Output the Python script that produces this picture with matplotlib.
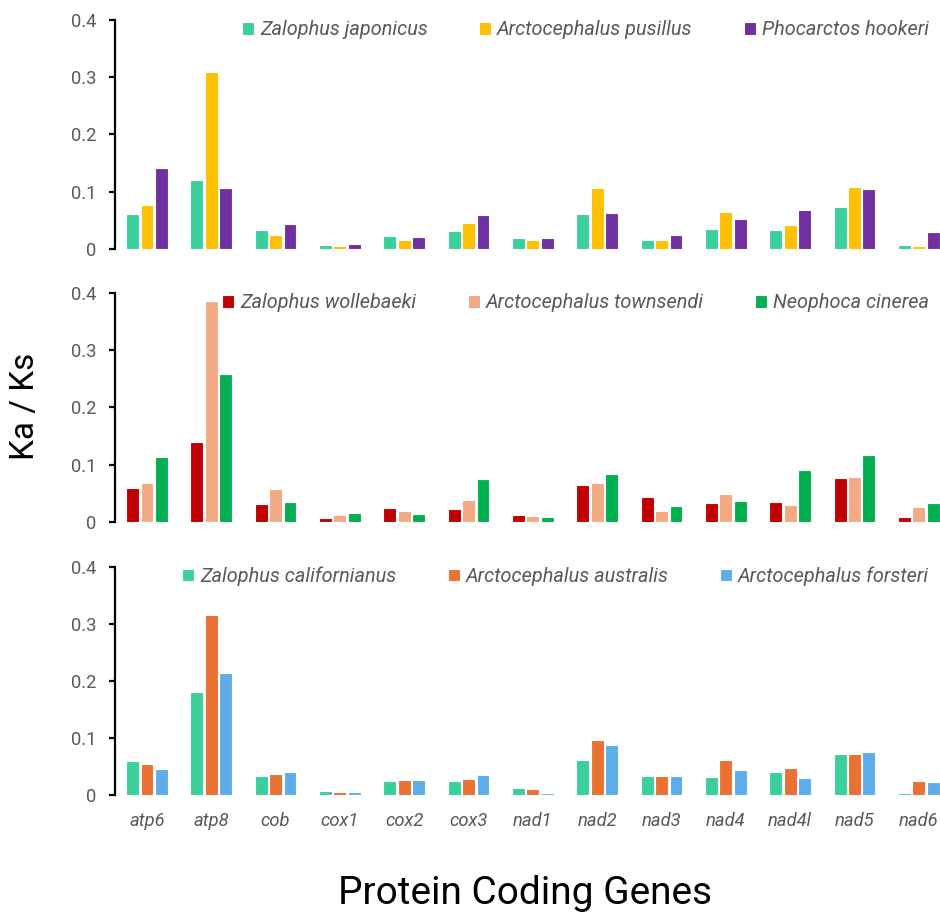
# Ka/Ks per mitochondrial protein-coding gene, three otariid panels
import matplotlib
matplotlib.use("Agg")
import matplotlib.pyplot as plt
import numpy as np

plt.rcParams["font.family"] = ["Roboto", "DejaVu Sans"]

genes = ["atp6", "atp8", "cob", "cox1", "cox2", "cox3", "nad1", "nad2",
         "nad3", "nad4", "nad4l", "nad5", "nad6"]

# panel 1
sp1 = ["Zalophus japonicus", "Arctocephalus pusillus", "Phocarctos hookeri"]
z_japonicus = [0.061, 0.121, 0.033, 0.007, 0.023, 0.031, 0.019, 0.061, 0.015, 0.034, 0.033, 0.073, 0.006]
a_pusillus = [0.076, 0.309, 0.024, 0.005, 0.015, 0.045, 0.015, 0.106, 0.015, 0.064, 0.041, 0.108, 0.005]
p_hookeri = [0.142, 0.106, 0.043, 0.008, 0.020, 0.059, 0.019, 0.062, 0.024, 0.052, 0.068, 0.104, 0.030]

# panel 2
sp2 = ["Zalophus wollebaeki", "Arctocephalus townsendi", "Neophoca cinerea"]
z_wollebaeki = [0.059, 0.140, 0.031, 0.007, 0.024, 0.022, 0.012, 0.065, 0.043, 0.032, 0.034, 0.076, 0.008]
a_townsendi = [0.068, 0.386, 0.057, 0.011, 0.018, 0.038, 0.010, 0.068, 0.018, 0.048, 0.030, 0.079, 0.026]
n_cinerea = [0.113, 0.259, 0.034, 0.015, 0.014, 0.074, 0.009, 0.083, 0.028, 0.037, 0.090, 0.117, 0.033]

# panel 3
sp3 = ["Zalophus californianus", "Arctocephalus australis", "Arctocephalus forsteri"]
z_californianus = [0.060, 0.180, 0.034, 0.007, 0.024, 0.025, 0.013, 0.062, 0.034, 0.031, 0.041, 0.072, 0.004]
a_australis = [0.055, 0.316, 0.036, 0.005, 0.026, 0.028, 0.011, 0.096, 0.034, 0.061, 0.047, 0.071, 0.025]
a_forsteri = [0.046, 0.214, 0.040, 0.005, 0.027, 0.035, 0.004, 0.088, 0.034, 0.044, 0.029, 0.075, 0.022]

panels = [
    (sp1, [z_japonicus, a_pusillus, p_hookeri], ["#3BCF9B", "#FFC000", "#7030A0"]),
    (sp2, [z_wollebaeki, a_townsendi, n_cinerea], ["#C00000", "#F2AA84", "#00B050"]),
    (sp3, [z_californianus, a_australis, a_forsteri], ["#3BCF9B", "#E97132", "#5EADEB"]),
]

GREY = "#595959"

fig = plt.figure(figsize=(9.4, 9.13), dpi=100)
left, width = 0.1221, 0.8896
bottoms = [0.7276, 0.4286, 0.1292]
x = np.arange(len(genes))
off = 0.224

for (names, series, colors), b in zip(panels, bottoms):
    ax = fig.add_axes([left, b, width, 0.2503])
    for i, (vals, c, n) in enumerate(zip(series, colors, names)):
        ax.bar(x + (i - 1) * off, vals, width=0.2, color=c, edgecolor="white",
               linewidth=0.8, label=n)
    ax.set_xlim(-0.5, len(genes) - 0.5)
    ax.set_ylim(0, 0.4)
    ax.set_yticks([0, 0.1, 0.2, 0.3, 0.4], ["0", "0.1", "0.2", "0.3", "0.4"])
    for s in ["top", "right", "bottom"]:
        ax.spines[s].set_visible(False)
    ax.spines["left"].set_linewidth(1.6)
    ax.tick_params(axis="y", length=4, width=1.6, labelsize=13.2,
                   labelcolor=GREY, pad=9)
    ax.tick_params(axis="x", length=0)
    if b == bottoms[-1]:
        ax.set_xticks(x, genes)
        for t in ax.get_xticklabels():
            t.set_fontstyle("italic")
            t.set_color(GREY)
            t.set_fontsize(13.2)
        ax.tick_params(axis="x", pad=12)
    else:
        ax.set_xticks([])
    ax.legend(loc="center right", bbox_to_anchor=(0.974, 0.958), ncol=3,
              frameon=False, borderpad=0, borderaxespad=0,
              handlelength=0.6, handleheight=0.6, handletextpad=0.3,
              columnspacing=2.6,
              prop={"style": "italic", "size": 14.3}, labelcolor=GREY)

fig.text(0.027, 0.555, "Ka / Ks", rotation=90, fontsize=24,
         va="center", ha="center")
fig.text(0.558, 0.01, "Protein Coding Genes", fontsize=28,
         va="baseline", ha="center")

fig.savefig("out.png", dpi=100)
